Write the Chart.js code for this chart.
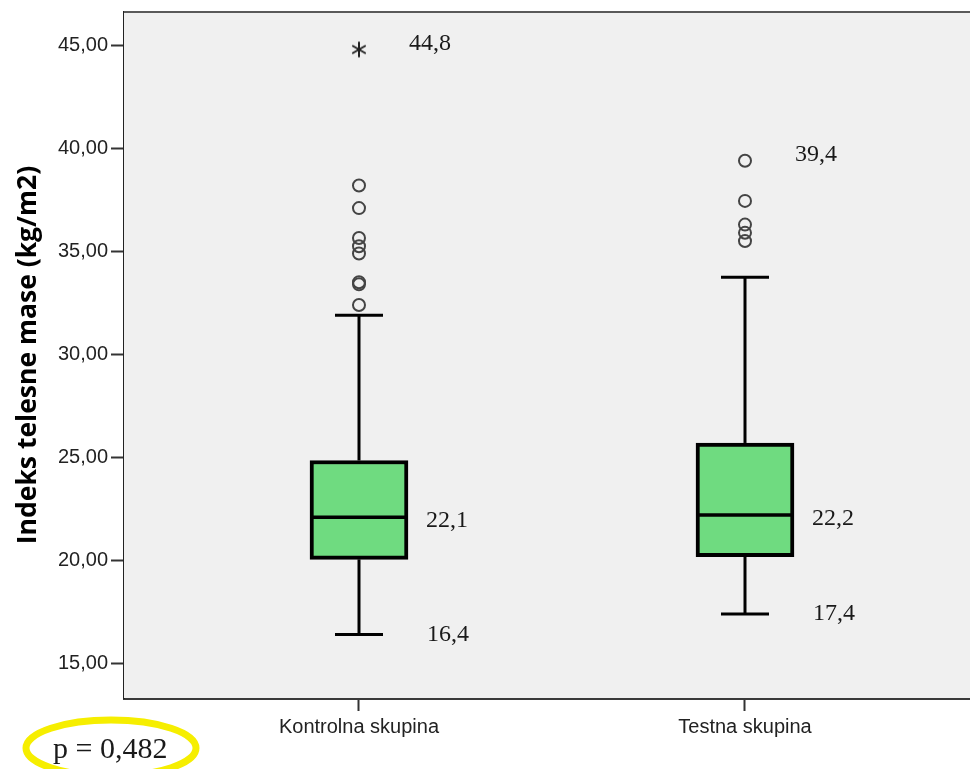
<!DOCTYPE html>
<html>
<head>
<meta charset="utf-8">
<title>Indeks telesne mase</title>
<script src="https://cdn.jsdelivr.net/npm/chart.js@4/dist/chart.umd.min.js"></script>
<style>
  html, body { margin: 0; padding: 0; background: #ffffff; }
  #wrap { width: 970px; height: 769px; }
</style>
</head>
<body>
<div id="wrap"><canvas id="bmi" width="970" height="769"></canvas></div>
<script>
// Groups and their box-plot summaries (BMI, kg/m2)
const categories = ['Kontrolna skupina', 'Testna skupina'];
const whiskerLow = [16.4, 17.4];
const quartile1 = [20.05, 20.18];
const medians = [22.1, 22.2];
const quartile3 = [24.85, 25.7];
const whiskerHigh = [31.9, 33.75];
// Outliers (circles) and extreme values (asterisk) per group
const outliersKontrolna = [32.4, 33.4, 33.5, 34.9, 35.25, 35.65, 37.1, 38.2];
const outliersTestna = [35.5, 35.9, 36.3, 37.45, 39.4];
const extremesKontrolna = [44.8];
const extremesTestna = [];
// Values written beside the marks: top value, median, lowest value
const labelTop = [44.8, 39.4];
const labelMedian = [22.1, 22.2];
const labelLow = [16.4, 17.4];
// Y-axis ticks
const yTicks = [15, 20, 25, 30, 35, 40, 45];
const pValue = 0.482;

const outlierSets = [outliersKontrolna, outliersTestna];
const extremeSets = [extremesKontrolna, extremesTestna];
const fmt = (v, d) => v.toFixed(d).replace('.', ',');

// Asterisk marker for extreme values
const asterisk = document.createElement('canvas');
asterisk.width = 18; asterisk.height = 18;
(function () {
  const c = asterisk.getContext('2d');
  c.strokeStyle = '#222'; c.lineWidth = 2; c.lineCap = 'round';
  for (let k = 0; k < 3; k++) {
    const a = Math.PI / 2 + k * Math.PI / 3;
    c.beginPath();
    c.moveTo(9 + 7 * Math.cos(a), 9 - 7 * Math.sin(a));
    c.lineTo(9 - 7 * Math.cos(a), 9 + 7 * Math.sin(a));
    c.stroke();
  }
})();

const BOX_W = 98;
const CAP_HALF = 24;

// Plot background and top frame line
const frame = {
  id: 'frame',
  beforeDatasetsDraw(chart) {
    const { ctx, chartArea: a } = chart;
    ctx.save();
    ctx.fillStyle = '#f0f0f0';
    ctx.fillRect(a.left, a.top, a.right - a.left, a.bottom - a.top);
    ctx.strokeStyle = '#5a5a5a';
    ctx.lineWidth = 2;
    ctx.beginPath();
    ctx.moveTo(a.left, a.top);
    ctx.lineTo(a.right, a.top);
    ctx.stroke();
    ctx.restore();
  }
};

// Whiskers, caps and median lines
const whiskers = {
  id: 'whiskers',
  afterDatasetsDraw(chart) {
    const { ctx, scales: { x, y } } = chart;
    ctx.save();
    ctx.strokeStyle = '#000';
    categories.forEach((c, i) => {
      const cx = x.getPixelForValue(i + 1);
      const seg = (x1, y1, x2, y2) => { ctx.beginPath(); ctx.moveTo(x1, y1); ctx.lineTo(x2, y2); ctx.stroke(); };
      ctx.lineWidth = 3;
      seg(cx, y.getPixelForValue(quartile3[i]), cx, y.getPixelForValue(whiskerHigh[i]));
      seg(cx, y.getPixelForValue(quartile1[i]), cx, y.getPixelForValue(whiskerLow[i]));
      const yh = y.getPixelForValue(whiskerHigh[i]);
      const yl = y.getPixelForValue(whiskerLow[i]);
      seg(cx - CAP_HALF, yh, cx + CAP_HALF, yh);
      seg(cx - CAP_HALF, yl, cx + CAP_HALF, yl);
      ctx.lineWidth = 3.5;
      const ym = y.getPixelForValue(medians[i]);
      seg(cx - BOX_W / 2 + 1, ym, cx + BOX_W / 2 - 1, ym);
    });
    ctx.restore();
  }
};

// Value labels beside the boxes
const valueLabels = {
  id: 'valueLabels',
  afterDatasetsDraw(chart) {
    const { ctx, scales: { x, y } } = chart;
    ctx.save();
    ctx.fillStyle = '#1a1a1a';
    ctx.font = '24px "Liberation Serif", serif';
    ctx.textAlign = 'left';
    ctx.textBaseline = 'middle';
    categories.forEach((c, i) => {
      const cx = x.getPixelForValue(i + 1);
      ctx.fillText(fmt(labelTop[i], 1), cx + 50, y.getPixelForValue(labelTop[i]) - 6);
      ctx.fillText(fmt(labelMedian[i], 1), cx + 67, y.getPixelForValue(labelMedian[i]) + 4);
      ctx.fillText(fmt(labelLow[i], 1), cx + 68, y.getPixelForValue(labelLow[i]));
    });
    ctx.restore();
  }
};

// Significance note with highlight ring
const pNote = {
  id: 'pNote',
  afterDraw(chart) {
    const { ctx } = chart;
    ctx.save();
    ctx.strokeStyle = '#f6ee00';
    ctx.lineWidth = 7;
    ctx.beginPath();
    ctx.ellipse(111, 748, 85, 28, 0, 0, Math.PI * 2);
    ctx.stroke();
    ctx.fillStyle = '#1a1a1a';
    ctx.font = '30px "Liberation Serif", serif';
    ctx.textAlign = 'left';
    ctx.textBaseline = 'alphabetic';
    ctx.fillText('p = ' + fmt(pValue, 3), 53, 758);
    ctx.restore();
  }
};

Chart.defaults.font.family = '"Liberation Sans", Arial, sans-serif';

new Chart(document.getElementById('bmi'), {
  data: {
    datasets: [
      {
        type: 'bar',
        data: categories.map((c, i) => ({ x: i + 1, y: [quartile1[i], quartile3[i]] })),
        backgroundColor: '#6fdb80',
        borderColor: '#000',
        borderWidth: 4,
        borderSkipped: false,
        barThickness: BOX_W,
        grouped: false
      },
      {
        type: 'scatter',
        data: outlierSets.flatMap((arr, i) => arr.map(v => ({ x: i + 1, y: v }))),
        pointStyle: 'circle',
        pointRadius: 6,
        pointBorderWidth: 2,
        pointBorderColor: '#444',
        pointBackgroundColor: 'rgba(0,0,0,0)'
      },
      {
        type: 'scatter',
        data: extremeSets.flatMap((arr, i) => arr.map(v => ({ x: i + 1, y: v }))),
        pointStyle: asterisk,
        pointRadius: 9
      }
    ]
  },
  options: {
    responsive: false,
    animation: false,
    devicePixelRatio: 1,
    layout: { autoPadding: false, padding: { top: 12, right: 0, bottom: 0, left: 0 } },
    plugins: { legend: { display: false }, tooltip: { enabled: false } },
    scales: {
      x: {
        type: 'linear',
        offset: false,
        min: 0.3912,
        max: 2.5829,
        afterBuildTicks: s => { s.ticks = categories.map((c, i) => ({ value: i + 1 })); },
        afterFit: s => { s.height = 71; s.paddingLeft = 0; s.paddingRight = 0; },
        ticks: {
          callback: v => categories[Math.round(v) - 1],
          font: { size: 20 },
          color: '#222',
          padding: 4,
          maxRotation: 0,
          autoSkip: false
        },
        grid: { offset: false, drawOnChartArea: false, drawTicks: true, tickLength: 13, tickWidth: 2, tickColor: '#333' },
        border: { display: true, color: '#3a3a3a', width: 3 }
      },
      y: {
        type: 'linear',
        min: 13.32,
        max: 46.62,
        afterBuildTicks: s => { s.ticks = yTicks.map(v => ({ value: v })); },
        afterFit: s => { s.width = 124; s.paddingTop = 0; s.paddingBottom = 0; },
        ticks: {
          callback: v => fmt(v, 2),
          font: { size: 20 },
          color: '#222',
          padding: 3
        },
        grid: { drawOnChartArea: false, drawTicks: true, tickLength: 13, tickWidth: 2, tickColor: '#333' },
        border: { display: true, color: '#222', width: 2 },
        title: {
          display: true,
          text: 'Indeks telesne mase (kg/m2)',
          font: { family: '"Open Sans", sans-serif', weight: 'bold', size: 26.5 },
          color: '#000',
          padding: { top: 13, bottom: 0 }
        }
      }
    }
  },
  plugins: [frame, whiskers, valueLabels, pNote]
});
</script>
</body>
</html>
